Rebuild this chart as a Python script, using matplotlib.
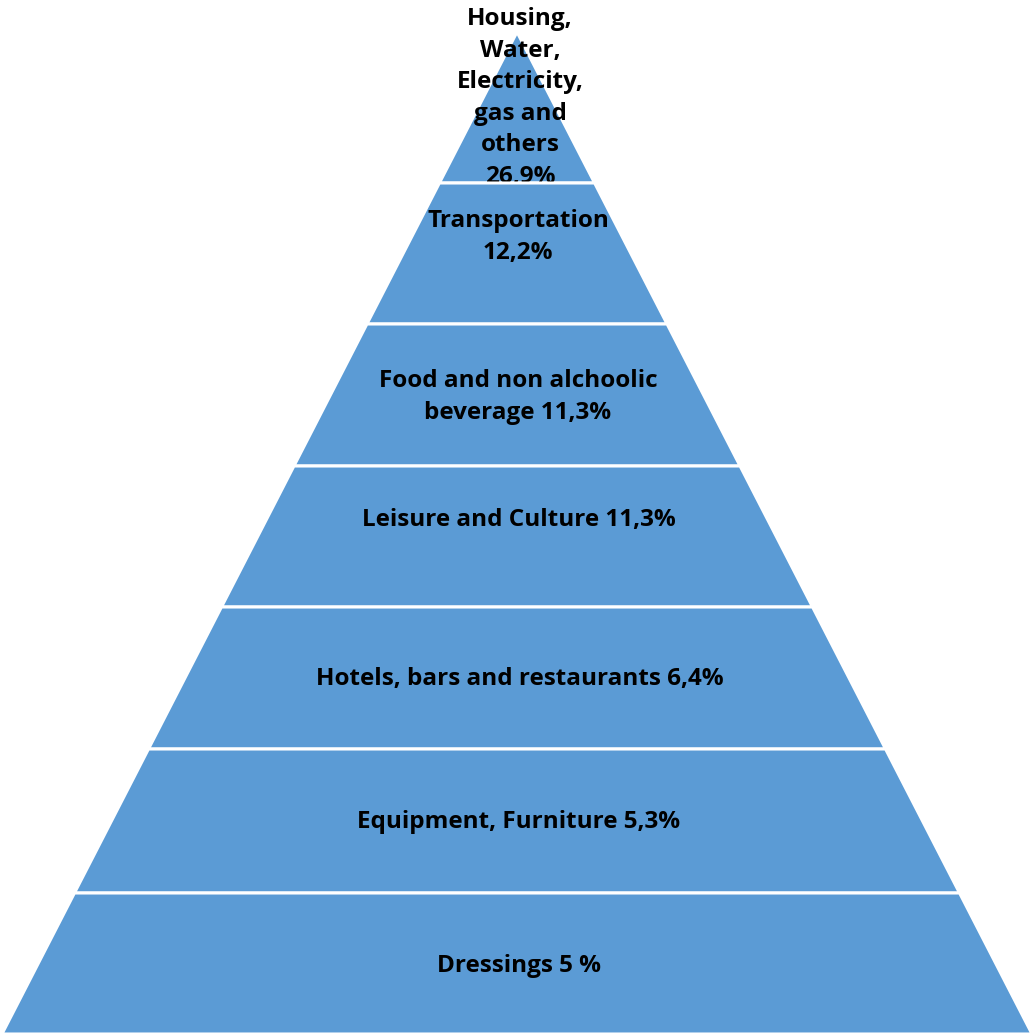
import matplotlib.pyplot as plt
from matplotlib.patches import Polygon

# household spending by category, top of pyramid first
categories = [
    "Housing,\nWater,\nElectricity,\ngas and\nothers",
    "Transportation",
    "Food and non alchoolic\nbeverage",
    "Leisure and Culture",
    "Hotels, bars and restaurants",
    "Equipment, Furniture",
    "Dressings",
]
shares = ["26,9%", "12,2%", "11,3%", "11,3%", "6,4%", "5,3%", "5 %"]
# how each share is joined to its category name
joiners = ["\n", "\n", " ", " ", " ", " ", " "]

# --- GEOMETRY (pixel units) ---------- #
W, H = 1033, 1034
apex_x, apex_y = 517, 32
half_slope = 0.514          # half width gained per pixel down
edges = [apex_y, 183, 324, 466, 607, 749, 893, H]
text_y = [98, 237, 397, 520, 679, 822, 966]
text_x = [520, 518, 518, 519, 520, 519, 519]

fig = plt.figure(figsize=(W / 100, H / 100), dpi=100)
ax = fig.add_axes([0, 0, 1, 1])
ax.set_xlim(0, W)
ax.set_ylim(H, 0)
ax.axis("off")

def half_width(y):
    return (y - apex_y) * half_slope

for i, (name, share, sep) in enumerate(zip(categories, shares, joiners)):
    y0, y1 = edges[i], edges[i + 1]
    pts = [
        (apex_x - half_width(y0), y0), (apex_x + half_width(y0), y0),
        (apex_x + half_width(y1), y1), (apex_x - half_width(y1), y1),
    ]
    ax.add_patch(Polygon(pts, closed=True, facecolor="#5B9BD5",
                         edgecolor="white", linewidth=2.2, zorder=2 * i + 1))
    ax.text(text_x[i], text_y[i], name + sep + share, ha="center", va="center",
            fontsize=17.5, fontweight="bold", family="Open Sans",
            linespacing=1.42, color="black", zorder=2 * i + 2)

fig.savefig("out.png", dpi=100)
